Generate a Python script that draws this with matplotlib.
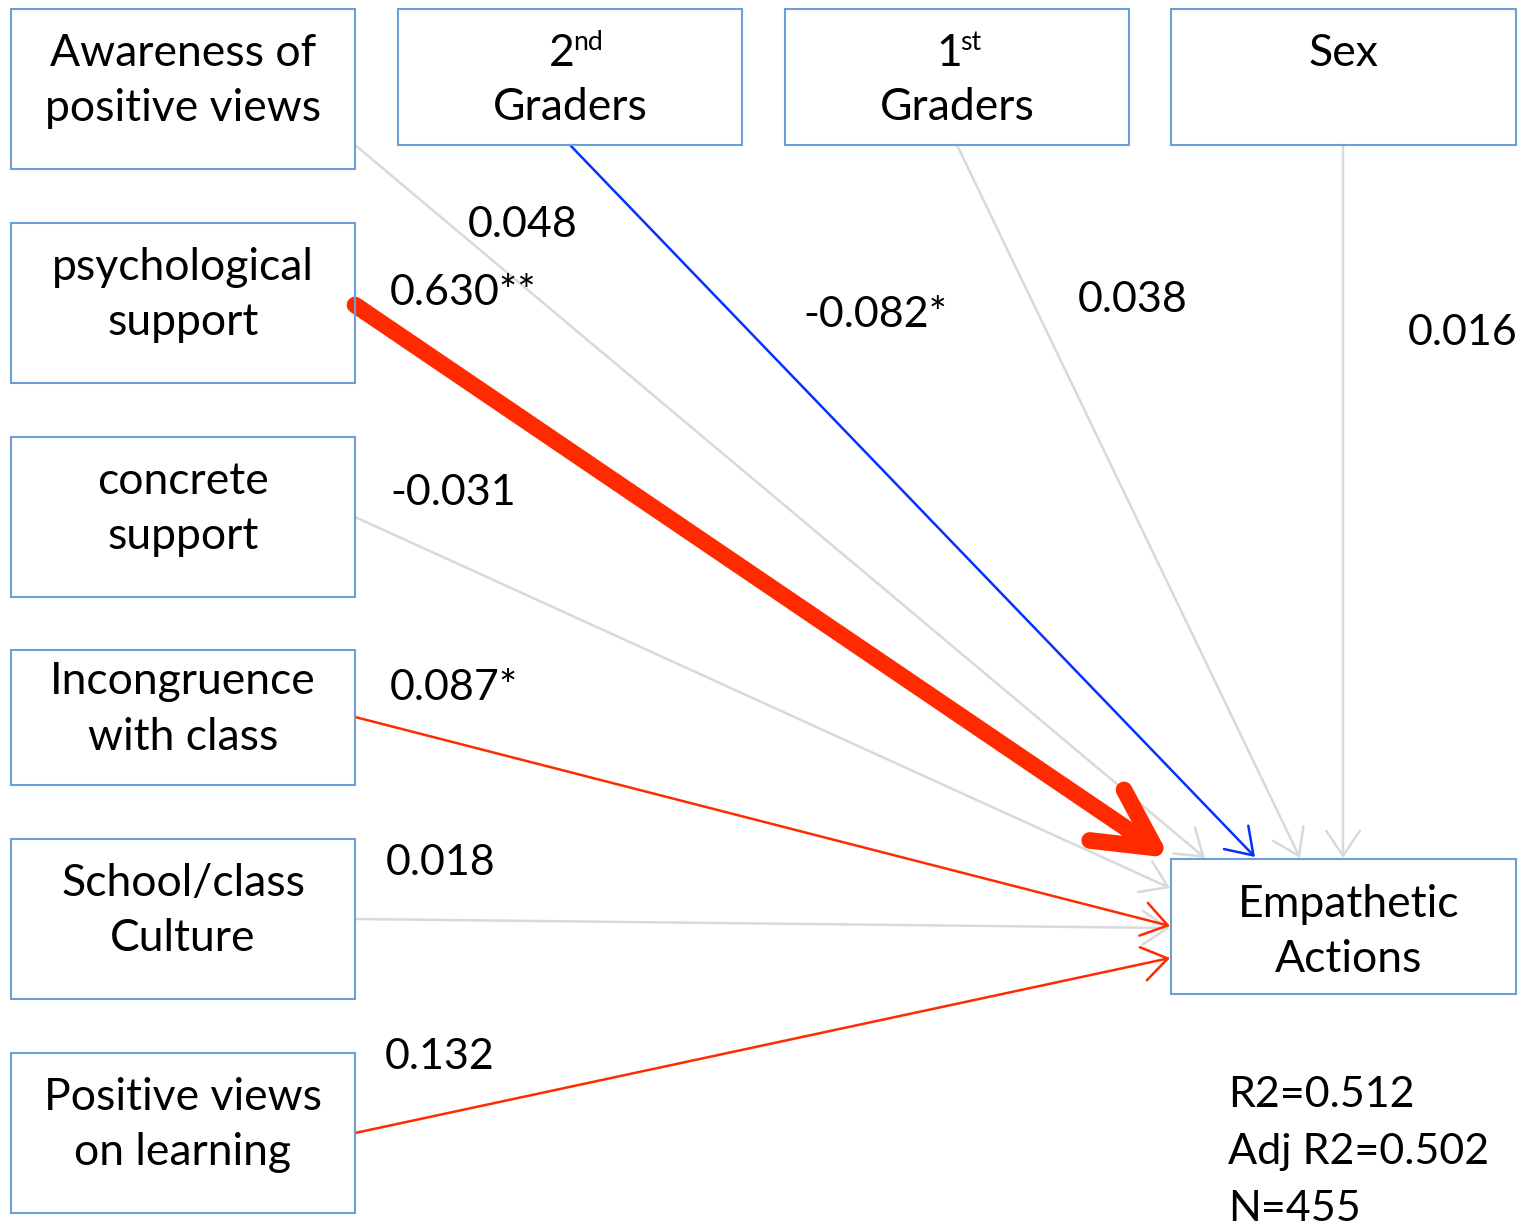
import matplotlib.pyplot as plt
from matplotlib.patches import Rectangle, FancyArrowPatch

plt.rcParams['font.family'] = ['Lato', 'DejaVu Sans']

# predictors and their coefficients on Empathetic Actions
left_names = ["Awareness of\npositive views", "psychological\nsupport", "concrete\nsupport",
              "Incongruence\nwith class", "School/class\nCulture", "Positive views\non learning"]
left_coef = ["0.048", "0.630**", "-0.031", "0.087*", "0.018", "0.132"]
left_kind = ["ns", "pos_strong", "ns", "pos", "ns", "pos"]

top_base = ["2", "1", "Sex"]
top_sup = ["nd", "st", ""]
top_coef = ["-0.082*", "0.038", "0.016"]
top_kind = ["neg", "ns", "ns"]

target = "Empathetic\nActions"
stats = ["R2=0.512", "Adj R2=0.502", "N=455"]

colors = {"ns": "#d9d9d9", "pos": "#ff2a00", "pos_strong": "#ff2a00", "neg": "#0433ff"}
edge = "#6e9fd4"

W, H = 1521, 1230
fig = plt.figure(figsize=(W / 100, H / 100), dpi=100)
ax = fig.add_axes([0, 0, 1, 1])
ax.set_xlim(0, W)
ax.set_ylim(H, 0)
ax.axis('off')

FS = 32     # box text
FN = 31     # numbers
LS = 1.43

def box(x0, y0, x1, y1):
    ax.add_patch(Rectangle((x0, y0), x1 - x0, y1 - y0, fill=False, ec=edge, lw=1.5, zorder=3))

def arrow(p0, p1, kind):
    c = colors[kind]
    if kind == "pos_strong":
        st = "->,head_length=0.42,head_width=0.22"
        lw, ms = 12, 100
    else:
        st = "->,head_length=0.4,head_width=0.27"
        lw, ms = 1.8, 45
    a = FancyArrowPatch(p0, p1, arrowstyle=st, mutation_scale=ms, color=c, lw=lw,
                        shrinkA=0, shrinkB=0, capstyle='round', joinstyle='round', zorder=2)
    ax.add_patch(a)

# left boxes
left_y = [(9, 169), (223, 383), (437, 597), (650, 785), (839, 999), (1053, 1213)]
for (y0, y1), name in zip(left_y, left_names):
    box(11, y0, 355, y1)
    ax.text(183, (y0 + y1) / 2 - 8, name, ha='center', va='center', fontsize=FS, linespacing=LS)

# top boxes
top_x = [(398, 742), (785, 1129), (1171, 1516)]
for (x0, x1), b, s in zip(top_x, top_base, top_sup):
    box(x0, 9, x1, 145)
    cx = (x0 + x1) / 2
    if s:
        ax.text(cx - 8, 53, b, ha='center', va='center', fontsize=FS)
        ax.text(cx + 3, 43, s, ha='left', va='center', fontsize=FS * 0.6)
        ax.text(cx, 108, "Graders", ha='center', va='center', fontsize=FS)
    else:
        ax.text(cx, 53, b, ha='center', va='center', fontsize=FS)

# target box
box(1171, 859, 1516, 994)
ax.text(1349, 932, target, ha='center', va='center', fontsize=FS, linespacing=LS)

# arrows from left boxes
left_start = [(355, 145), (355, 305), (355, 517), (355, 717), (355, 919), (355, 1133)]
left_end = [(1205, 858), (1170, 858), (1170, 888), (1170, 926), (1170, 928), (1170, 958)]
order = [0, 2, 4, 3, 5, 1]
for i in order:
    arrow(left_start[i], left_end[i], left_kind[i])

top_start = [(570, 145), (957, 145), (1343, 145)]
top_end = [(1255, 857), (1300, 858), (1343, 858)]
for i in range(3):
    arrow(top_start[i], top_end[i], top_kind[i])

# coefficient labels
left_lab = [(468, 225), (390, 293), (390, 493), (390, 688), (386, 863), (385, 1057)]
for (x, y), t in zip(left_lab, left_coef):
    ax.text(x, y, t, ha='left', va='center', fontsize=FN)
top_lab = [(803, 315), (1078, 300), (1408, 333)]
for (x, y), t in zip(top_lab, top_coef):
    ax.text(x, y, t, ha='left', va='center', fontsize=FN)

for k, t in enumerate(stats):
    ax.text(1228, 1095 + 57 * k, t, ha='left', va='center', fontsize=FN)

fig.savefig("out.png", dpi=100, facecolor='white')
